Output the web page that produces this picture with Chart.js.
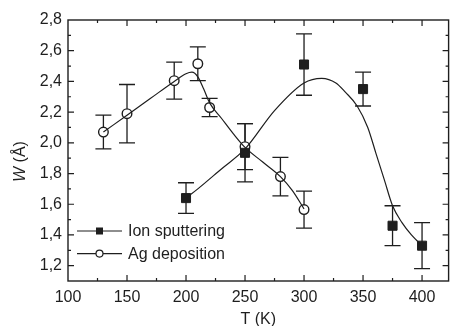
<!DOCTYPE html>
<html>
<head>
<meta charset="utf-8">
<script src="https://cdn.jsdelivr.net/npm/chart.js@4/dist/chart.umd.min.js"></script>
<style>
  html, body { margin: 0; padding: 0; background: #fff; }
  #wrap { width: 456px; height: 326px; }
</style>
</head>
<body>
<div id="wrap"><canvas id="chart" width="456" height="326"></canvas></div>
<script>
// measured points with their error bars
const ionT = [200, 250, 300, 350, 375, 400];
const ionW = [1.64, 1.935, 2.51, 2.35, 1.46, 1.33];
const ionErr = [0.10, 0.19, 0.20, 0.11, 0.13, 0.15];

const agT = [130, 150, 190, 210, 220, 250, 280, 300];
const agW = [2.07, 2.19, 2.405, 2.515, 2.23, 1.975, 1.78, 1.565];
const agErr = [0.11, 0.19, 0.12, 0.11, 0.06, 0.15, 0.125, 0.12];

// guide-to-the-eye curves
const ionFitT = [200, 210, 230, 250, 275, 300, 315, 327, 335, 345, 354, 361, 368, 375, 383, 391, 400];
const ionFitW = [1.64, 1.70, 1.83, 1.96, 2.21, 2.39, 2.42, 2.39, 2.33, 2.24, 2.10, 1.93, 1.76, 1.59, 1.48, 1.40, 1.33];
const agFitT = [130, 150, 170, 190, 200, 205, 210, 215, 220, 230, 240, 250, 265, 280, 290, 300];
const agFitW = [2.07, 2.18, 2.29, 2.40, 2.45, 2.46, 2.43, 2.35, 2.26, 2.16, 2.06, 1.97, 1.875, 1.78, 1.69, 1.57];

const seriesNames = ['Ion sputtering', 'Ag deposition'];
const xTicks = [100, 150, 200, 250, 300, 350, 400];
const yTicks = [1.2, 1.4, 1.6, 1.8, 2.0, 2.2, 2.4, 2.6, 2.8];

const INK = '#1e1e1e';
const FONT = '"Liberation Sans", Arial, sans-serif';

const toPts = (xs, ys) => xs.map((v, i) => ({ x: v, y: ys[i] }));

const errorBars = {
  id: 'errorBars',
  beforeDatasetsDraw(chart) {
    const { ctx, scales: { x, y } } = chart;
    ctx.save();
    ctx.strokeStyle = INK;
    ctx.lineWidth = 1.3;
    chart.data.datasets.forEach(ds => {
      if (!ds.errors) return;
      ds.data.forEach((p, i) => {
        const px = x.getPixelForValue(p.x);
        const top = y.getPixelForValue(p.y + ds.errors[i]);
        const bot = y.getPixelForValue(p.y - ds.errors[i]);
        ctx.beginPath();
        ctx.moveTo(px, top); ctx.lineTo(px, bot);
        ctx.moveTo(px - 8, top); ctx.lineTo(px + 8, top);
        ctx.moveTo(px - 8, bot); ctx.lineTo(px + 8, bot);
        ctx.stroke();
      });
    });
    ctx.restore();
  }
};

// box frame with inward major + minor ticks on all four sides
const frame = {
  id: 'frame',
  afterDraw(chart) {
    const { ctx, chartArea: a, scales: { x, y } } = chart;
    ctx.save();
    ctx.strokeStyle = INK;
    ctx.lineWidth = 1.4;
    ctx.strokeRect(a.left, a.top, a.right - a.left, a.bottom - a.top);
    ctx.lineWidth = 1.2;
    ctx.beginPath();
    const xs = [];
    xTicks.forEach(v => { xs.push([v, 6]); xs.push([v + 25, 3]); });
    xs.forEach(([v, len]) => {
      const px = x.getPixelForValue(v);
      if (px <= a.left || px >= a.right) return;
      ctx.moveTo(px, a.bottom); ctx.lineTo(px, a.bottom - len);
      ctx.moveTo(px, a.top); ctx.lineTo(px, a.top + len);
    });
    const ys = [];
    yTicks.forEach(v => { ys.push([v, 6]); ys.push([v - 0.1, 3]); });
    ys.forEach(([v, len]) => {
      const py = y.getPixelForValue(v);
      if (py <= a.top || py >= a.bottom) return;
      ctx.moveTo(a.left, py); ctx.lineTo(a.left + len, py);
      ctx.moveTo(a.right, py); ctx.lineTo(a.right - len, py);
    });
    ctx.stroke();

    // y axis title, W in italics
    ctx.fillStyle = INK;
    ctx.translate(21, (a.top + a.bottom) / 2 + 11);
    ctx.rotate(-Math.PI / 2);
    ctx.textBaseline = 'middle';
    ctx.font = 'italic 16px ' + FONT;
    const wW = ctx.measureText('W').width;
    ctx.font = '16px ' + FONT;
    const rest = ' (Å)';
    const total = wW + ctx.measureText(rest).width;
    ctx.font = 'italic 16px ' + FONT;
    ctx.fillText('W', -total / 2, 0);
    ctx.font = '16px ' + FONT;
    ctx.fillText(rest, -total / 2 + wW, 0);
    ctx.restore();

    // legend: line - marker - line, then the label
    ctx.save();
    ctx.strokeStyle = INK;
    ctx.fillStyle = INK;
    ctx.font = '16px ' + FONT;
    ctx.textBaseline = 'middle';
    seriesNames.forEach((name, i) => {
      const ly = a.bottom - 50 + i * 22.6;
      const lx = a.left + 9;
      ctx.lineWidth = 1.1;
      ctx.beginPath();
      ctx.moveTo(lx, ly); ctx.lineTo(lx + 45, ly);
      ctx.stroke();
      if (i === 0) {
        ctx.fillRect(lx + 19, ly - 3.5, 7, 7);
      } else {
        ctx.beginPath();
        ctx.arc(lx + 22.5, ly, 3.5, 0, Math.PI * 2);
        ctx.fillStyle = '#fff';
        ctx.fill();
        ctx.lineWidth = 1.2;
        ctx.stroke();
        ctx.fillStyle = INK;
      }
      ctx.fillText(name, lx + 51, ly + 1);
    });
    ctx.restore();
  }
};

new Chart(document.getElementById('chart'), {
  type: 'scatter',
  data: {
    datasets: [
      {
        label: seriesNames[0] + ' fit',
        data: toPts(ionFitT, ionFitW),
        showLine: true,
        borderColor: INK,
        borderWidth: 1.2,
        pointRadius: 0,
        cubicInterpolationMode: 'monotone'
      },
      {
        label: seriesNames[1] + ' fit',
        data: toPts(agFitT, agFitW),
        showLine: true,
        borderColor: INK,
        borderWidth: 1.2,
        pointRadius: 0,
        cubicInterpolationMode: 'monotone'
      },
      {
        label: seriesNames[0],
        data: toPts(ionT, ionW),
        errors: ionErr,
        pointStyle: 'rect',
        pointRadius: 6.4,
        backgroundColor: INK,
        borderColor: INK,
        borderWidth: 1
      },
      {
        label: seriesNames[1],
        data: toPts(agT, agW),
        errors: agErr,
        pointStyle: 'circle',
        pointRadius: 4.8,
        backgroundColor: '#fff',
        borderColor: INK,
        borderWidth: 1.4
      }
    ]
  },
  options: {
    responsive: false,
    animation: false,
    layout: { padding: { top: 20, right: 1, left: 0, bottom: 0 } },
    plugins: {
      legend: { display: false },
      tooltip: { enabled: false }
    },
    scales: {
      x: {
        type: 'linear',
        min: 100,
        max: 422.5,
        afterBuildTicks: s => { s.ticks = xTicks.map(v => ({ value: v })); },
        afterFit: s => { s.height = 45; },
        grid: { display: false, drawTicks: false },
        border: { display: false },
        ticks: {
          color: INK,
          padding: 7,
          font: { family: FONT, size: 16 },
          maxRotation: 0,
          autoSkip: false
        },
        title: {
          display: true,
          text: 'T (K)',
          color: INK,
          font: { family: FONT, size: 16 },
          padding: { top: 0, bottom: -3 }
        }
      },
      y: {
        type: 'linear',
        min: 1.1,
        max: 2.8,
        afterBuildTicks: s => { s.ticks = yTicks.map(v => ({ value: v })); },
        afterFit: s => { s.width = 68; },
        grid: { display: false, drawTicks: false },
        border: { display: false },
        ticks: {
          color: INK,
          padding: 6,
          font: { family: FONT, size: 16 },
          autoSkip: false,
          callback: v => v.toFixed(1).replace('.', ',')
        }
      }
    }
  },
  plugins: [errorBars, frame]
});
</script>
</body>
</html>
